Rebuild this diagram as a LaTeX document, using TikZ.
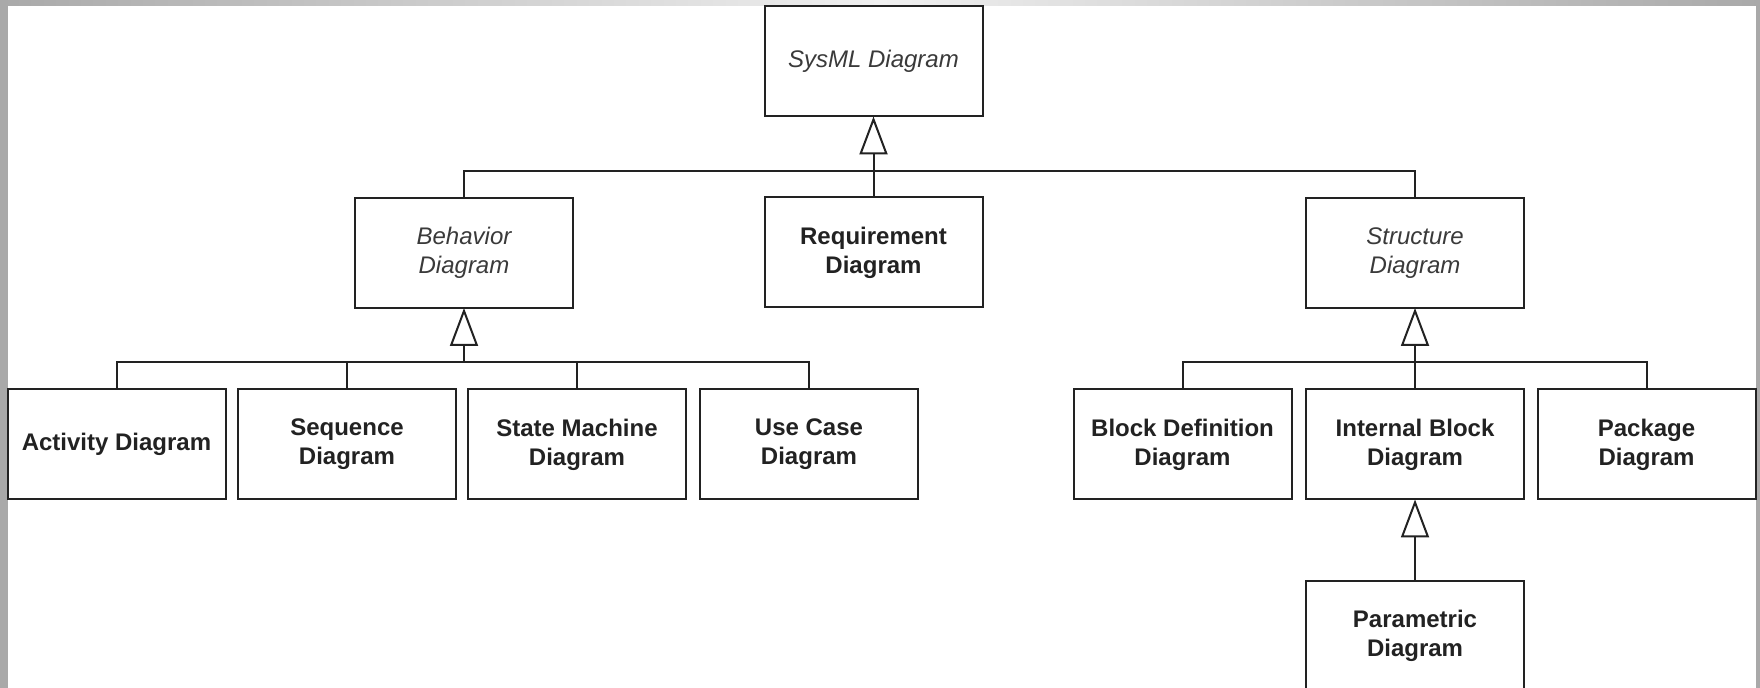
\documentclass[tikz,border=0pt]{standalone}
\usepackage{fontspec}
\setmainfont{Liberation Sans}
\usetikzlibrary{arrows.meta}
\definecolor{frame}{HTML}{A9A9A9}
\definecolor{framelight}{HTML}{F0F0F0}
\definecolor{ink}{HTML}{222222}
\definecolor{softink}{HTML}{3A3A3A}
\begin{document}
\begin{tikzpicture}[x=0.5pt,y=-0.5pt,
  diag/.style={draw=ink, line width=1pt, fill=white, minimum width=109pt,
    minimum height=55pt, inner sep=0pt, outer sep=0pt, align=center, text=ink},
  leaf/.style={diag, font=\fontsize{12pt}{14.5pt}\selectfont\bfseries},
  abstract/.style={diag, font=\fontsize{12pt}{14.5pt}\selectfont\itshape, text=softink},
  link/.style={draw=ink, line width=1pt},
  gen/.style={link, -{Triangle[open, length=19pt, width=14pt]}}]

% page and its grey frame
\fill[white] (0,0) rectangle (1760,688);
\useasboundingbox (0,0) rectangle (1760,688);
\shade[left color=frame, right color=frame, middle color=framelight] (0,0) rectangle (1760,6);
\fill[frame] (0,0) rectangle (8,688);
\fill[frame] (1756,0) rectangle (1760,688);

% root
\node[abstract] (sys) at (873.5,61.5) {SysML Diagram};

% second level
\node[abstract] (beh) at (464,253) {Behavior\\Diagram};
\node[leaf]     (req) at (873.5,252.5) {Requirement\\Diagram};
\node[abstract] (str) at (1415,253) {Structure\\Diagram};

% behaviour diagrams
\node[leaf] (act) at (116.5,444.5) {Activity Diagram};
\node[leaf] (seq) at (347,444.5) {Sequence\\Diagram};
\node[leaf] (stm) at (577,444.5) {State Machine\\Diagram};
\node[leaf] (uc)  at (809,444.5) {Use Case\\Diagram};

% structure diagrams
\node[leaf] (bdd) at (1182.5,444.5) {Block Definition\\Diagram};
\node[leaf] (ibd) at (1415,444.5) {Internal Block\\Diagram};
\node[leaf] (pkg) at (1646.5,444.5) {Package\\Diagram};
\node[leaf] (par) at (1415,636) {Parametric\\Diagram};

% generalisation buses
\coordinate (topbus) at (873.5,171);
\coordinate (behbus) at (464,362);
\coordinate (strbus) at (1415,362);

\draw[link] (beh.north) -- (beh.north |- topbus) -- (str.north |- topbus) -- (str.north);
\draw[link] (req.north) -- (topbus);
\draw[gen] (topbus) -- (sys.south);

\draw[link] (act.north) -- (act.north |- behbus) -- (uc.north |- behbus) -- (uc.north);
\draw[link] (seq.north) -- (seq.north |- behbus);
\draw[link] (stm.north) -- (stm.north |- behbus);
\draw[gen] (behbus) -- (beh.south);

\draw[link] (bdd.north) -- (bdd.north |- strbus) -- (pkg.north |- strbus) -- (pkg.north);
\draw[link] (ibd.north) -- (strbus);
\draw[gen] (strbus) -- (str.south);

\draw[gen] (par.north) -- (ibd.south);
\end{tikzpicture}
\end{document}
